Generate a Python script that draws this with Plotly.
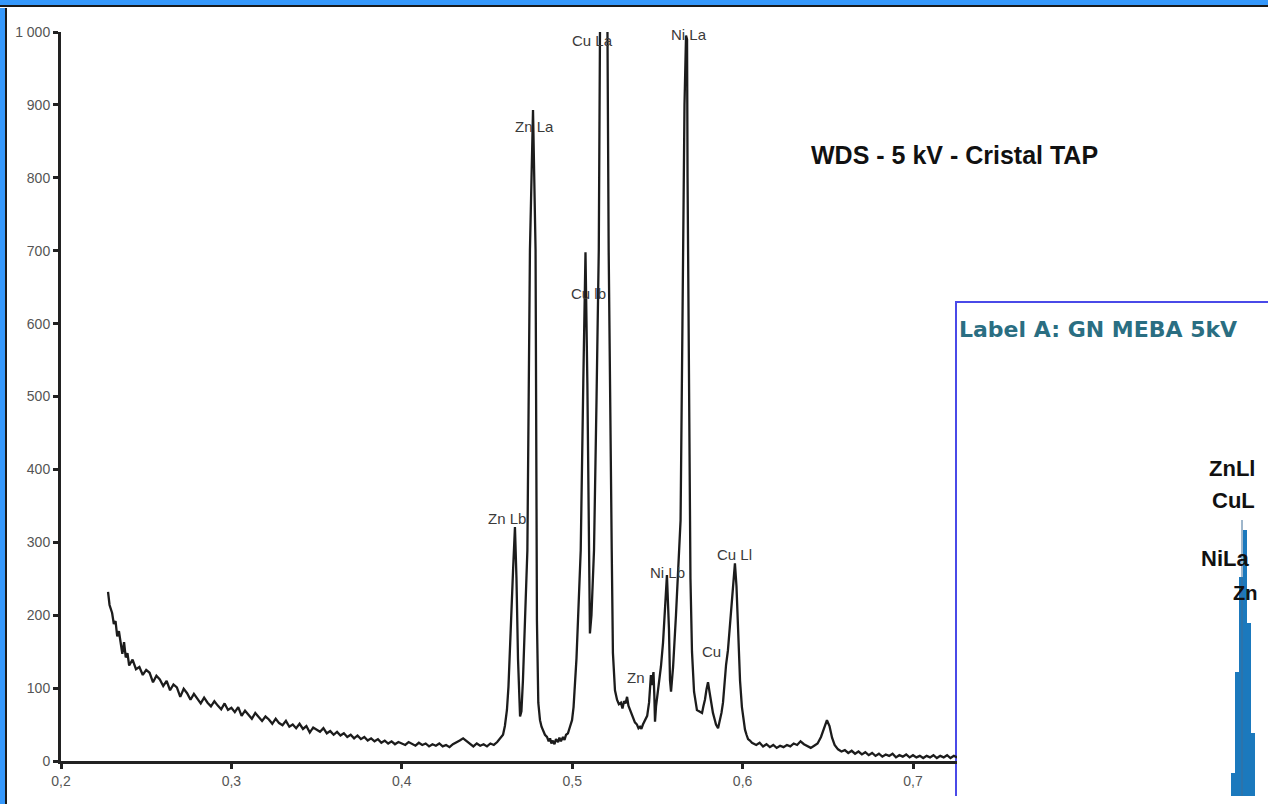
import plotly.graph_objects as go

# The page body keeps its default 8 px margin, so the figure is 16 px smaller
# than the 1268x804 window and every reference pixel is shifted by 8.
W, H = 1252, 788
OFF = 8

# ---------------- WDS spectrum ----------------
bg_x = [0.2276, 0.2285, 0.2300, 0.2310, 0.2320, 0.2330, 0.2340, 0.2350, 0.2360, 0.2370,
        0.2380, 0.2390, 0.2400, 0.2420, 0.2440, 0.2460, 0.2480, 0.2500, 0.2520, 0.2540,
        0.2560, 0.2580, 0.2600, 0.2620, 0.2640, 0.2660, 0.2680, 0.2700, 0.2720, 0.2740,
        0.2760, 0.2780, 0.2800, 0.2820, 0.2840, 0.2860, 0.2880, 0.2900, 0.2920, 0.2940,
        0.2960, 0.2980, 0.3000, 0.3020, 0.3040, 0.3060, 0.3080, 0.3100, 0.3120, 0.3140,
        0.3160, 0.3180, 0.3200, 0.3220, 0.3240, 0.3260, 0.3280, 0.3300, 0.3320, 0.3340,
        0.3360, 0.3380, 0.3400, 0.3420, 0.3440, 0.3460, 0.3480, 0.3500, 0.3520, 0.3540,
        0.3560, 0.3580, 0.3600, 0.3620, 0.3640, 0.3660, 0.3680, 0.3700, 0.3720, 0.3740,
        0.3760, 0.3780, 0.3800, 0.3820, 0.3840, 0.3860, 0.3880, 0.3900, 0.3920, 0.3940,
        0.3960, 0.3980, 0.4000, 0.4020, 0.4040, 0.4060, 0.4080, 0.4100, 0.4120, 0.4140,
        0.4160, 0.4180, 0.4200, 0.4220, 0.4240, 0.4260, 0.4280, 0.4300, 0.4320, 0.4340,
        0.4360, 0.4380, 0.4400, 0.4420, 0.4440, 0.4460, 0.4480, 0.4500, 0.4520, 0.4540,
        0.4560, 0.4580]
bg_y = [232, 214, 203, 188, 192, 171, 178, 160, 147, 163,
        142, 148, 131, 139, 126, 129, 118, 125, 121, 108,
        117, 112, 103, 110, 97, 105, 101, 88, 99, 93,
        84, 92, 86, 79, 87, 80, 75, 82, 76, 71,
        79, 70, 73, 67, 74, 62, 69, 64, 58, 66,
        60, 55, 61, 57, 51, 58, 52, 49, 55, 47,
        50, 45, 51, 44, 48, 39, 46, 43, 40, 45,
        38, 41, 36, 40, 35, 38, 33, 36, 31, 35,
        30, 33, 28, 31, 27, 30, 25, 28, 24, 27,
        23, 26, 24, 22, 26, 23, 21, 25, 22, 24,
        20, 23, 21, 24, 20, 22, 19, 23, 25, 28,
        31, 27, 23, 20, 24, 21, 23, 20, 24, 22,
        26, 31]

peak_x = [0.4594, 0.4605, 0.4617, 0.4626, 0.4635, 0.4644, 0.4653, 0.4664, 0.4673, 0.4682,
          0.4694, 0.4702, 0.4711, 0.4723, 0.4737, 0.4752, 0.4770, 0.4785, 0.4791, 0.4793,
          0.4801, 0.4811, 0.4820, 0.4829, 0.4840, 0.4852, 0.4862, 0.4870, 0.4878, 0.4887,
          0.4896, 0.4905, 0.4917, 0.4925, 0.4934, 0.4946, 0.4955, 0.4964, 0.4975, 0.4987,
          0.4999, 0.5008, 0.5016, 0.5025, 0.5034, 0.5050, 0.5065, 0.5078, 0.5089, 0.5099,
          0.5104, 0.5113, 0.5128, 0.5143, 0.5156, 0.5163, 0.5184, 0.5207, 0.5214, 0.5232,
          0.5239, 0.5251, 0.5263, 0.5274, 0.5286, 0.5295, 0.5304, 0.5313, 0.5322, 0.5330,
          0.5339, 0.5348, 0.5357, 0.5368, 0.5380, 0.5389, 0.5398, 0.5406, 0.5415, 0.5427,
          0.5440, 0.5451, 0.5462, 0.5466, 0.5471, 0.5477, 0.5482, 0.5486, 0.5492, 0.5504,
          0.5512, 0.5521, 0.5533, 0.5545, 0.5556, 0.5568, 0.5574, 0.5580, 0.5592, 0.5609,
          0.5621, 0.5636, 0.5647, 0.5659, 0.5668, 0.5674, 0.5677, 0.5685, 0.5694, 0.5703,
          0.5715, 0.5732, 0.5750, 0.5762, 0.5770, 0.5779, 0.5788, 0.5797, 0.5805, 0.5815,
          0.5826, 0.5835, 0.5844, 0.5856, 0.5867, 0.5876, 0.5885, 0.5894, 0.5903, 0.5914,
          0.5926, 0.5938, 0.5947, 0.5955, 0.5964, 0.5973, 0.5985, 0.5996, 0.6005, 0.6014,
          0.6023, 0.6032, 0.6043, 0.6055]
peak_y = [36, 48, 70, 102, 148, 210, 262, 321, 250, 140,
          61, 68, 111, 193, 289, 701, 893, 701, 289, 193,
          80, 56, 47, 42, 36, 33, 27, 31, 24, 28,
          23, 30, 26, 32, 27, 33, 29, 36, 38, 47,
          56, 74, 102, 140, 193, 289, 518, 698, 518, 250,
          175, 200, 289, 500, 701, 1000, 1090, 1000, 701, 289,
          148, 97, 84, 78, 80, 72, 82, 79, 88, 76,
          70, 64, 60, 53, 50, 45, 47, 44, 50, 55,
          62, 80, 118, 104, 112, 122, 90, 54, 75, 97,
          108, 130, 162, 220, 255, 180, 111, 95, 129, 200,
          266, 330, 600, 900, 995, 990, 800, 500, 250, 150,
          95, 70, 68, 66, 75, 84, 98, 108, 96, 80,
          66, 58, 50, 45, 56, 66, 80, 110, 132, 152,
          190, 225, 255, 271, 240, 175, 110, 74, 55, 43,
          36, 30, 28, 25]

tail_x = [0.608, 0.610, 0.612, 0.614, 0.616, 0.618, 0.620, 0.622, 0.624, 0.626,
          0.628, 0.630, 0.632, 0.634, 0.636, 0.638, 0.640, 0.642, 0.644, 0.646,
          0.648, 0.6495, 0.651, 0.6525, 0.654, 0.656, 0.658, 0.660, 0.662, 0.664,
          0.666, 0.668, 0.670, 0.672, 0.674, 0.676, 0.678, 0.680, 0.682, 0.684,
          0.686, 0.688, 0.690, 0.692, 0.694, 0.696, 0.698, 0.700, 0.702, 0.704,
          0.706, 0.708, 0.710, 0.712, 0.714, 0.716, 0.718, 0.720, 0.722, 0.724,
          0.726, 0.728]
tail_y = [22, 25, 20, 23, 19, 22, 18, 21, 19, 22,
          20, 24, 22, 27, 23, 20, 18, 21, 24, 33,
          47, 56, 48, 32, 22, 16, 13, 15, 11, 14,
          10, 13, 9, 12, 8, 11, 7, 10, 6, 9,
          7, 10, 5, 8, 6, 9, 5, 8, 5, 7,
          4, 7, 5, 8, 4, 7, 5, 8, 4, 7,
          5, 6]

spec_x = bg_x + peak_x + tail_x
spec_y = bg_y + peak_y + tail_y

x_ticks = [0.2, 0.3, 0.4, 0.5, 0.6, 0.7]
x_ticktext = ["0,2", "0,3", "0,4", "0,5", "0,6", "0,7"]
y_ticks = [0, 100, 200, 300, 400, 500, 600, 700, 800, 900, 1000]
y_ticktext = ["0", "100", "200", "300", "400", "500", "600", "700", "800", "900", "1 000"]

peak_labels = ["Cu La", "Ni La", "Zn La", "Cu lb", "Zn Lb", "Ni Lb", "Cu Ll", "Cu", "Zn"]
peak_label_x = [0.5122, 0.5685, 0.4776, 0.5093, 0.4617, 0.5562, 0.5955, 0.5815, 0.5374]
peak_label_y = [988, 996, 870, 641, 332, 258, 283, 150, 115]

# ---------------- EDS inset ----------------
eds_energy = [0.87, 0.88, 0.89, 0.90, 0.91, 0.92]
eds_counts = [31, 132, 227, 274, 181, 71]
eds_marker_energy = 0.8922
eds_marker_height = 284


def px(x):
    return (x - OFF) / W


def py(y):
    return 1 - (y - OFF) / H


fig = go.Figure()

fig.add_trace(go.Scatter(
    x=spec_x, y=spec_y, mode="lines",
    line=dict(color="#1c1c1c", width=2.3),
    xaxis="x", yaxis="y", hoverinfo="skip"))

fig.add_trace(go.Bar(
    x=eds_energy, y=eds_counts, width=0.0101,
    marker=dict(color="#1b79bd", line=dict(width=0)),
    xaxis="x2", yaxis="y2"))

fig.add_trace(go.Scatter(
    x=[eds_marker_energy, eds_marker_energy], y=[0, eds_marker_height],
    mode="lines", line=dict(color="#3f6f98", width=1),
    xaxis="x2", yaxis="y2"))

font_main = "Liberation Sans, Arial, sans-serif"

annotations = []
for t, xv, yv in zip(peak_labels, peak_label_x, peak_label_y):
    annotations.append(dict(text=t, x=xv, y=yv, xref="x", yref="y", showarrow=False,
                            xanchor="center", yanchor="middle",
                            font=dict(family=font_main, size=15, color="#3a3a3a")))

annotations.append(dict(text="<b>WDS - 5 kV - Cristal TAP</b>", x=px(954), y=py(155),
                        xref="paper", yref="paper", xanchor="center", yanchor="middle",
                        showarrow=False,
                        font=dict(family=font_main, size=25, color="#111111")))

annotations.append(dict(text="<b>Label A: GN MEBA 5kV</b>", x=px(957), y=py(329),
                        xref="paper", yref="paper", xanchor="left", yanchor="middle",
                        showarrow=False,
                        font=dict(family="DejaVu Sans, sans-serif", size=22, color="#2a6e82")))

inset_labels = [("ZnLl", 1232, 468.5, "center", 22), ("CuL", 1257, 500, "right", 22),
                ("NiLa", 1199, 558.5, "left", 22), ("Zn", 1231, 592.5, "left", 20)]
for t, x0, y0, anc, fs in inset_labels:
    annotations.append(dict(text="<b>" + t + "</b>", x=px(x0), y=py(y0), xref="paper", yref="paper",
                            xanchor=anc, yanchor="middle", showarrow=False,
                            font=dict(family=font_main, size=fs, color="#111111")))

shapes = [
    dict(type="rect", xref="paper", yref="paper", x0=px(6.5), y0=py(6.5), x1=1.02, y1=-0.02,
         fillcolor="white", line=dict(color="#1a1a1a", width=2.5), layer="below"),
    dict(type="rect", xref="paper", yref="paper", x0=px(956), y0=py(302), x1=1.02, y1=-0.02,
         fillcolor="white", line=dict(color="#4a4ae8", width=2), layer="below"),
]

fig.update_layout(
    width=W, height=H,
    margin=dict(l=0, r=0, t=0, b=0),
    paper_bgcolor="#3598fb",
    plot_bgcolor="rgba(0,0,0,0)",
    showlegend=False,
    bargap=0,
    annotations=annotations,
    shapes=shapes,
    xaxis=dict(domain=[px(61), px(957)], range=[0.2, 0.2 + 896 / 1704],
               tickvals=x_ticks, ticktext=x_ticktext, ticks="outside", ticklen=5,
               tickwidth=2.5, tickcolor="#222", showline=True, linecolor="#222", linewidth=3,
               showgrid=False, zeroline=False, automargin=False,
               tickfont=dict(family=font_main, size=14, color="#555")),
    yaxis=dict(domain=[py(761), py(32)], range=[0, 1000],
               tickvals=y_ticks, ticktext=y_ticktext, ticks="outside", ticklen=5,
               tickwidth=2.5, tickcolor="#222", showline=True, linecolor="#222", linewidth=3,
               showgrid=False, zeroline=False, automargin=False,
               tickfont=dict(family=font_main, size=14, color="#555")),
    xaxis2=dict(domain=[px(958), 1.0], range=[0.1927, 0.9365], anchor="y2",
                visible=False, showgrid=False, zeroline=False),
    yaxis2=dict(domain=[0.0, py(302)], range=[8, 502], anchor="x2",
                visible=False, showgrid=False, zeroline=False),
)

# paint the page margin like the reference frame (blue band top/left, inset border to the edge)
frame_js = (
    "document.body.style.background="
    "'linear-gradient(#4a4ae8, #4a4ae8) 1258px 301px / 10px 2px no-repeat, "
    "linear-gradient(to bottom, #3598fb 0px, #3598fb 5px, #1a1a1a 5px, #1a1a1a 7px, #ffffff 7px) "
    "top left / 100% 8px no-repeat, "
    "linear-gradient(to right, #3598fb 0px, #3598fb 5px, #1a1a1a 5px, #1a1a1a 7px, #ffffff 7px) "
    "top left / 8px 100% no-repeat, #ffffff';"
)

fig.write_html("out.html", config={"displayModeBar": False}, post_script=frame_js)
